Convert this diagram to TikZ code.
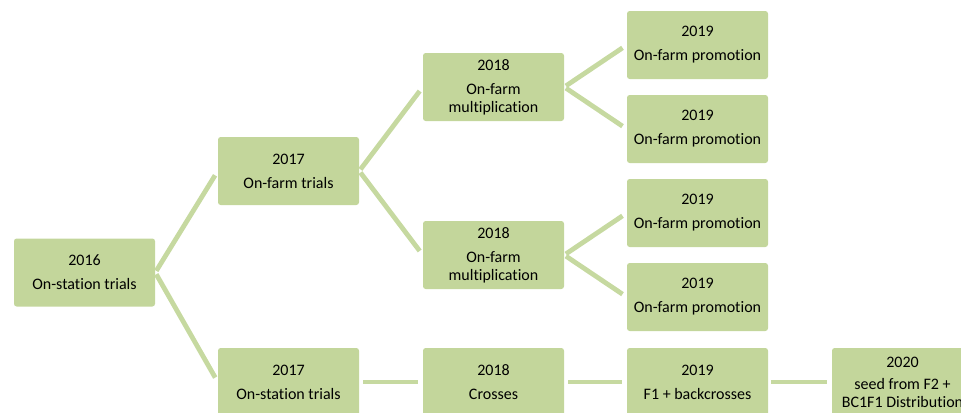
\documentclass[tikz,border=0pt]{standalone}
\usepackage{fontspec}
\setmainfont{Carlito}[Ligatures=CommonOff]
\usetikzlibrary{positioning,calc}
\definecolor{stagegreen}{HTML}{C3D69B}
\definecolor{linkgreen}{HTML}{C6D9A0}

\begin{document}
\begin{tikzpicture}[x=0.75pt, y=-0.75pt,
  stagebox/.style={fill=stagegreen, rounded corners=2pt, minimum width=105.75pt,
    minimum height=51pt, inner sep=0pt, align=center,
    font=\fontsize{12}{13.5}\selectfont},
  link/.style={draw=linkgreen, line width=3.6pt, shorten <=1.5pt, shorten >=3.8pt},
]
\useasboundingbox (0,0) rectangle (961,412);
\clip (0,0) rectangle (961,412);
% stages
\node[stagebox] (y16) at (84.5,272.5) {2016\\[4.5pt]On-station trials};
\node[stagebox] (y17farm) at (288.5,171) {2017\\[4.5pt]On-farm trials};
\node[stagebox] (y17stat) at (288.5,382) {2017\\[4.5pt]On-station trials};
\node[stagebox] (y18multA) at (493.5,87) {2018\\[4.5pt]On-farm\\multiplication};
\node[stagebox] (y18multB) at (493.5,255) {2018\\[4.5pt]On-farm\\multiplication};
\node[stagebox] (y18cross) at (493.5,382) {2018\\[4.5pt]Crosses};
\foreach \i/\yc in {A/45,B/129,C/213,D/297} {
  \node[stagebox] (y19prom\i) at (697.5,\yc) {2019\\[4.5pt]On-farm promotion};
}
\node[stagebox] (y19f1) at (697.5,382) {2019\\[4.5pt]F1 + backcrosses};
\node[stagebox] (y20seed) at (902.5,382) {2020\\[3pt]seed from F2 +\\BC1F1 Distribution};
% links
\draw[link] (y16.east) -- (y17farm.west);
\draw[link] (y16.east) -- (y17stat.west);
\draw[link] (y17farm.east) -- (y18multA.west);
\draw[link] (y17farm.east) -- (y18multB.west);
\draw[link] (y18multA.east) -- (y19promA.west);
\draw[link] (y18multA.east) -- (y19promB.west);
\draw[link] (y18multB.east) -- (y19promC.west);
\draw[link] (y18multB.east) -- (y19promD.west);
\draw[link, shorten <=3pt] (y17stat.east) -- (y18cross.west);
\draw[link, shorten <=3pt] (y18cross.east) -- (y19f1.west);
\draw[link, shorten <=2pt] (y19f1.east) -- (y20seed.west);
\end{tikzpicture}
\end{document}
